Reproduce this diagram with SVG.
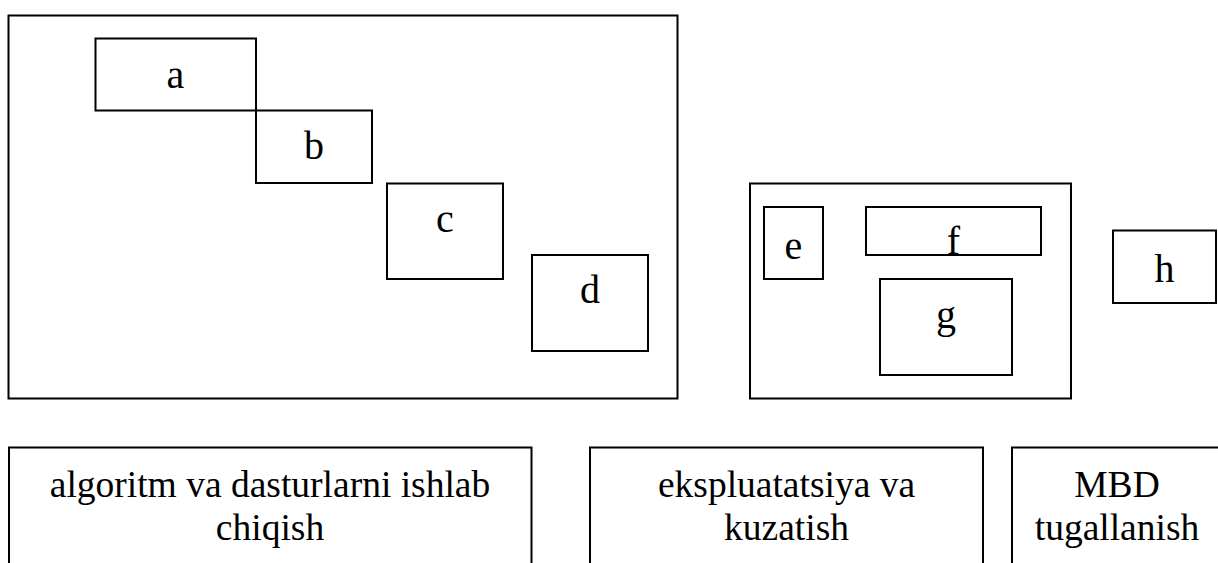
<svg xmlns="http://www.w3.org/2000/svg" width="1218" height="563" viewBox="0 0 1218 563">
  <style>
    rect { fill: none; stroke: #000; stroke-width: 2; }
    text { font-family: "Liberation Serif", "Times New Roman", serif; fill: #000; text-anchor: middle; }
    .lbl { font-size: 40px; }
    .cap { font-size: 37.5px; }
  </style>
  <rect width="1218" height="563" style="fill:#fff;stroke:none"/>

  <!-- upper left container -->
  <g id="group-left">
    <rect x="8.5" y="15.5" width="669" height="383"/>
  </g>
  <g id="node-a">
    <rect x="95.5" y="38.5" width="160.5" height="72"/>
    <text class="lbl" x="175.5" y="88">a</text>
  </g>
  <g id="node-b">
    <rect x="256" y="110.5" width="116" height="72.5"/>
    <text class="lbl" x="314" y="159">b</text>
  </g>
  <g id="node-c">
    <rect x="387" y="183.5" width="116" height="95.5"/>
    <text class="lbl" x="445" y="232">c</text>
  </g>
  <g id="node-d">
    <rect x="532" y="255" width="116" height="96"/>
    <text class="lbl" x="590" y="303">d</text>
  </g>

  <!-- upper middle container -->
  <g id="group-middle">
    <rect x="750" y="183.5" width="321" height="215"/>
  </g>
  <g id="node-e">
    <rect x="764" y="207" width="59" height="72"/>
    <text class="lbl" x="793.5" y="259">e</text>
  </g>
  <g id="node-f">
    <rect x="866" y="207" width="175" height="48"/>
    <text class="lbl" x="953.5" y="254">f</text>
  </g>
  <g id="node-g">
    <rect x="880" y="279" width="132" height="96"/>
    <text class="lbl" x="946" y="328">g</text>
  </g>
  <g id="node-h">
    <rect x="1113" y="230.5" width="103" height="72.5"/>
    <text class="lbl" x="1164.5" y="282">h</text>
  </g>

  <!-- stage captions along the bottom -->
  <g id="stage-1">
    <rect x="9" y="447.5" width="522.5" height="140"/>
    <text class="cap" x="270" y="497">algoritm va dasturlarni ishlab</text>
    <text class="cap" x="270" y="540">chiqish</text>
  </g>
  <g id="stage-2">
    <rect x="590" y="447.5" width="393" height="140"/>
    <text class="cap" x="786.5" y="497">ekspluatatsiya va</text>
    <text class="cap" x="786.5" y="540">kuzatish</text>
  </g>
  <g id="stage-3">
    <rect x="1012" y="447.5" width="220" height="140"/>
    <text class="cap" x="1117" y="497">MBD</text>
    <text class="cap" x="1117" y="540">tugallanish</text>
  </g>

  <g id="connectors"/>
</svg>
